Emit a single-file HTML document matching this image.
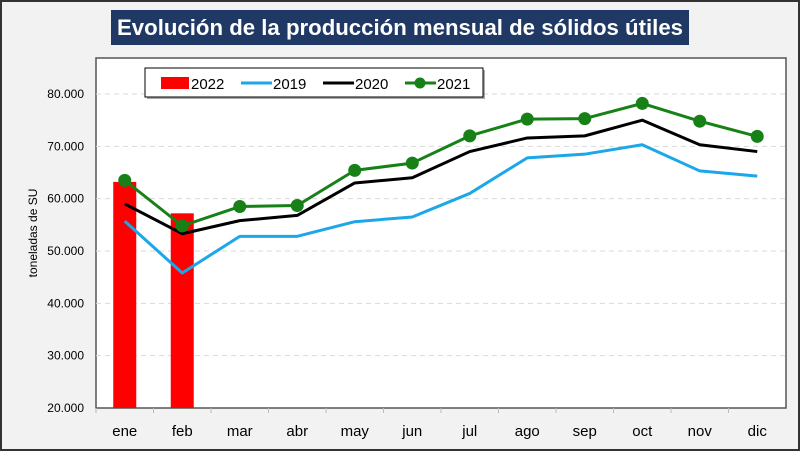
<!DOCTYPE html>
<html><head><meta charset="utf-8"><style>
body{margin:0;width:800px;height:451px;overflow:hidden;font-family:"Liberation Sans",sans-serif}
</style></head><body>
<svg id="c" width="800" height="451" xmlns="http://www.w3.org/2000/svg">
<rect x="1" y="1" width="798" height="449" fill="#f2f2f2" stroke="#333" stroke-width="2"/>
<rect x="111" y="10" width="578" height="35" fill="#1f3864"/>
<text x="400" y="35" text-anchor="middle" fill="#fff" font-size="22" font-weight="bold" textLength="566" lengthAdjust="spacingAndGlyphs">Evolución de la producción mensual de sólidos útiles</text>
<rect x="96" y="58" width="690" height="350" fill="#fff" stroke="#555" stroke-width="1.5"/>
<g id="grid"></g><g id="bars"></g><g id="lines"></g><g id="axes"></g>
<text transform="translate(37,233) rotate(-90)" text-anchor="middle" font-size="12">toneladas de SU</text>
<g>
<rect x="147" y="70" width="338" height="29" fill="#555" opacity="0.5"/>
<rect x="145" y="68" width="338" height="29" fill="#fff" stroke="#000" stroke-width="1"/>
<g><rect x="161" y="77" width="28" height="12" fill="#ff0000"/><text x="191" y="89" font-size="15">2022</text></g>
<g><line x1="241" y1="83" x2="272" y2="83" stroke="#1ba7e8" stroke-width="3"/><text x="273" y="89" font-size="15">2019</text></g>
<g><line x1="323" y1="83" x2="354" y2="83" stroke="#000" stroke-width="3"/><text x="355" y="89" font-size="15">2020</text></g>
<g><line x1="405" y1="83" x2="436" y2="83" stroke="#178017" stroke-width="3"/><circle cx="420" cy="83" r="5.5" fill="#178017"/><text x="437" y="89" font-size="15">2021</text></g>
</g>
</svg>
<script>
const categories=["ene","feb","mar","abr","may","jun","jul","ago","sep","oct","nov","dic"];
const s2022=[63200,57200];
const s2019=[55700,45800,52800,52800,55600,56500,61000,67800,68500,70300,65300,64300];
const s2020=[59000,53300,55800,56800,63000,64000,69000,71600,72000,75000,70300,69000];
const s2021=[63500,54800,58500,58700,65400,66800,72000,75200,75300,78200,74800,71900];
const yTicks=[20000,30000,40000,50000,60000,70000,80000];
const tickLabels=["20.000","30.000","40.000","50.000","60.000","70.000","80.000"];
const NS="http://www.w3.org/2000/svg";
const L=96,R=786,B=408,band=(R-L)/12;
const x=i=>L+band*(i+0.5);
const y=v=>B-(v-20000)*(314/60000);
function mk(t,a,p){const e=document.createElementNS(NS,t);for(const k in a)e.setAttribute(k,a[k]);document.getElementById(p).appendChild(e);return e;}
yTicks.forEach((v,i)=>{
 if(i>0){const g=mk('line',{x1:L,x2:R,y1:y(v),y2:y(v),stroke:'#d9d9d9','stroke-dasharray':'5,4'},'grid');
 
 }
 const t=mk('text',{x:84,y:y(v)+4,'text-anchor':'end','font-size':'12'},'axes');t.textContent=tickLabels[i];
 
 
});
categories.forEach((c,i)=>{
 const t=mk('text',{x:x(i),y:436,'text-anchor':'middle','font-size':'15'},'axes');t.textContent=c;
 
 
 const tk=mk('line',{x1:L+band*i,x2:L+band*i,y1:B,y2:B+5,stroke:'#bbb'},'axes');
 
 
});
s2022.forEach((v,i)=>{
 const r=mk('rect',{x:x(i)-11.5,y:y(v),width:23,height:B-y(v),fill:'#ff0000'},'bars');
 
 
});
function line(d,col,name,dots){
 const p=mk('polyline',{points:d.map((v,i)=>x(i)+','+y(v)).join(' '),fill:'none',stroke:col,'stroke-width':3,'stroke-linejoin':'round'},'lines');
 
 
 if(dots)d.forEach((v,i)=>{const c=mk('circle',{cx:x(i),cy:y(v),r:6.5,fill:col},'lines');
 
 });
}
line(s2019,'#1ba7e8','line-2019',false);
line(s2020,'#000','line-2020',false);
line(s2021,'#178017','line-2021',true);
</script>
</body></html>
